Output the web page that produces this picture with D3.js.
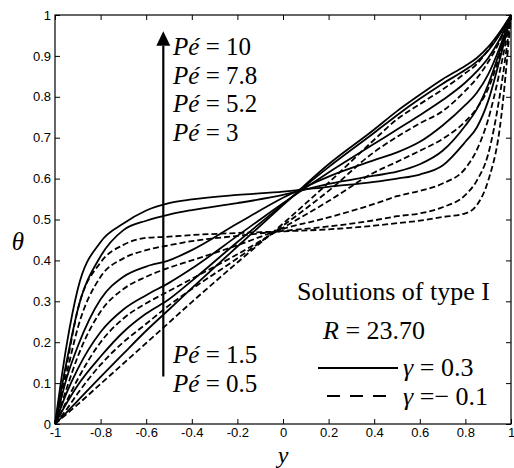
<!DOCTYPE html>
<html lang="en">
<head>
  <meta charset="UTF-8">
  <title>Solutions of type I</title>
  <script src="https://d3js.org/d3.v7.min.js"></script>
  <style>
    body { margin: 0; background: #fff; }
  </style>
</head>
<body>
<svg width="514" height="468"></svg>
<script>
  // sample abscissae (y coordinate of the channel)
  var ySamples = [-1, -0.95, -0.9, -0.8, -0.7, -0.6, -0.5, -0.4, -0.2, 0, 0.2, 0.4, 0.5, 0.6, 0.7, 0.8, 0.85, 0.9, 0.95, 1];

  // gamma = 0.3 (solid)
  var solid05 = [0, .028, .057, .115, .172, .228, .28, .332, .434, .535, .635, .72, .765, .805, .843, .876, .895, .922, .958, 1];
  var solid15 = [0, .05, .095, .165, .225, .27, .305, .35, .445, .537, .628, .712, .755, .795, .832, .866, .886, .913, .952, 1];
  var solid3 = [0, .075, .135, .225, .28, .315, .345, .38, .46, .54, .615, .685, .72, .755, .792, .835, .862, .895, .94, 1];
  var solid52 = [0, .11, .19, .305, .36, .385, .40, .425, .49, .553, .605, .645, .664, .69, .73, .78, .81, .855, .92, 1];
  var solid78 = [0, .15, .28, .41, .474, .497, .512, .523, .540, .560, .587, .607, .617, .635, .668, .73, .77, .83, .91, 1];
  var solid10 = [0, .19, .33, .445, .49, .522, .540, .549, .560, .568, .580, .592, .600, .61, .632, .69, .725, .79, .89, 1];

  // gamma = -0.1 (dashed)
  var dash05 = [0, .024, .048, .098, .148, .198, .248, .298, .395, .49, .59, .695, .745, .782, .818, .858, .88, .915, .955, 1];
  var dash15 = [0, .035, .075, .145, .2, .245, .29, .33, .405, .485, .57, .665, .702, .735, .765, .815, .845, .885, .935, 1];
  var dash3 = [0, .055, .11, .2, .258, .295, .325, .355, .415, .48, .545, .615, .641, .668, .697, .74, .772, .82, .90, 1];
  var dash52 = [0, .085, .165, .275, .33, .36, .382, .40, .437, .477, .505, .538, .557, .57, .588, .625, .67, .745, .86, 1];
  var dash78 = [0, .12, .235, .36, .405, .425, .437, .447, .46, .472, .483, .498, .508, .515, .53, .56, .595, .66, .80, 1];
  var dash10 = [0, .14, .28, .395, .438, .455, .458, .462, .467, .471, .476, .485, .491, .497, .506, .515, .535, .595, .72, 1];

  var xTicks = [-1, -0.8, -0.6, -0.4, -0.2, 0, 0.2, 0.4, 0.6, 0.8, 1];
  var yTicks = [0, 0.1, 0.2, 0.3, 0.4, 0.5, 0.6, 0.7, 0.8, 0.9, 1];
  var topLabels = ['10', '7.8', '5.2', '3'];
  var bottomLabels = ['1.5', '0.5'];

  var svg = d3.select('svg');
  var margin = {top: 15, right: 3, bottom: 44, left: 55};
  var width = +svg.attr('width') - margin.left - margin.right;
  var height = +svg.attr('height') - margin.top - margin.bottom;
  var g = svg.append('g')
    .attr('transform', 'translate(' + margin.left + ',' + margin.top + ')');

  var x = d3.scaleLinear().domain([-1, 1]).range([0, width]);
  var y = d3.scaleLinear().domain([0, 1]).range([height, 0]);

  var fmt = function (d) { return String(d); };
  var tickFont = 'Liberation Sans, Arial, sans-serif';
  var serif = 'Liberation Serif, Times New Roman, serif';

  // axes with inward ticks on all four sides
  function styleAxis(sel) {
    sel.select('.domain').remove();
    sel.selectAll('line').attr('stroke', '#000');
    sel.selectAll('text')
      .style('font-family', tickFont)
      .style('font-size', '13px')
      .attr('fill', '#000');
  }

  g.append('g')
    .attr('transform', 'translate(0,' + height + ')')
    .call(d3.axisBottom(x).tickValues(xTicks).tickSize(-5).tickPadding(4).tickFormat(fmt))
    .call(styleAxis);
  g.append('g')
    .call(d3.axisTop(x).tickValues(xTicks).tickSize(-5).tickFormat(''))
    .call(styleAxis);
  g.append('g')
    .call(d3.axisLeft(y).tickValues(yTicks).tickSize(-5).tickPadding(4).tickFormat(fmt))
    .call(styleAxis);
  g.append('g')
    .attr('transform', 'translate(' + width + ',0)')
    .call(d3.axisRight(y).tickValues(yTicks).tickSize(-5).tickFormat(''))
    .call(styleAxis);

  g.append('rect')
    .attr('width', width)
    .attr('height', height)
    .attr('fill', 'none')
    .attr('stroke', '#000')
    .attr('stroke-width', 1.2);

  var line = d3.line()
    .x(function (d) { return x(d[0]); })
    .y(function (d) { return y(d[1]); })
    .curve(d3.curveMonotoneX);

  var solids = [solid05, solid15, solid3, solid52, solid78, solid10];
  var dashes = [dash05, dash15, dash3, dash52, dash78, dash10];

  function draw(series, dash) {
    series.forEach(function (vals) {
      g.append('path')
        .datum(ySamples.map(function (v, i) { return [v, vals[i]]; }))
        .attr('fill', 'none')
        .attr('stroke', '#000')
        .attr('stroke-width', 1.8)
        .attr('stroke-dasharray', dash)
        .attr('d', line);
    });
  }
  draw(dashes, '6,3');
  draw(solids, null);

  // arrow of increasing Pe
  var ax = x(-0.525);
  g.append('line')
    .attr('x1', ax).attr('x2', ax)
    .attr('y1', y(0.116)).attr('y2', y(0.925))
    .attr('stroke', '#000')
    .attr('stroke-width', 2.2);
  g.append('path')
    .attr('d', 'M' + ax + ',' + y(0.96) + 'L' + (ax - 7) + ',' + y(0.925) + 'L' + (ax + 7) + ',' + y(0.925) + 'Z')
    .attr('fill', '#000');

  function serifText(px, py, size) {
    return svg.append('text')
      .attr('x', px)
      .attr('y', py)
      .style('font-family', serif)
      .style('font-size', size + 'px');
  }

  function peLabel(txt, by) {
    var t = serifText(173, by, 25);
    t.append('tspan').style('font-style', 'italic').text('Pé');
    t.append('tspan').text(' = ' + txt);
  }
  topLabels.forEach(function (d, i) { peLabel(d, 55 + i * 28.7); });
  bottomLabels.forEach(function (d, i) { peLabel(d, 363 + i * 28.7); });

  serifText(297, 300, 26).text('Solutions of type I');

  var r = serifText(323, 339, 26);
  r.append('tspan').style('font-style', 'italic').text('R');
  r.append('tspan').text(' = 23.70');

  // legend
  svg.append('line')
    .attr('x1', 318).attr('x2', 398).attr('y1', 368).attr('y2', 368)
    .attr('stroke', '#000').attr('stroke-width', 2);
  svg.append('line')
    .attr('x1', 327).attr('x2', 389).attr('y1', 396).attr('y2', 396)
    .attr('stroke', '#000').attr('stroke-width', 2)
    .attr('stroke-dasharray', '13,10');

  var l1 = serifText(403, 376, 26);
  l1.append('tspan').style('font-style', 'italic').text('γ');
  l1.append('tspan').text(' = 0.3');
  var l2 = serifText(403, 405, 26);
  l2.append('tspan').style('font-style', 'italic').text('γ');
  l2.append('tspan').text(' =\u2212 0.1');

  // axis titles
  serifText(283, 463, 24)
    .attr('text-anchor', 'middle')
    .style('font-style', 'italic')
    .text('y');
  serifText(18, 250, 25)
    .attr('text-anchor', 'middle')
    .style('font-style', 'italic')
    .text('θ');
</script>
</body>
</html>
